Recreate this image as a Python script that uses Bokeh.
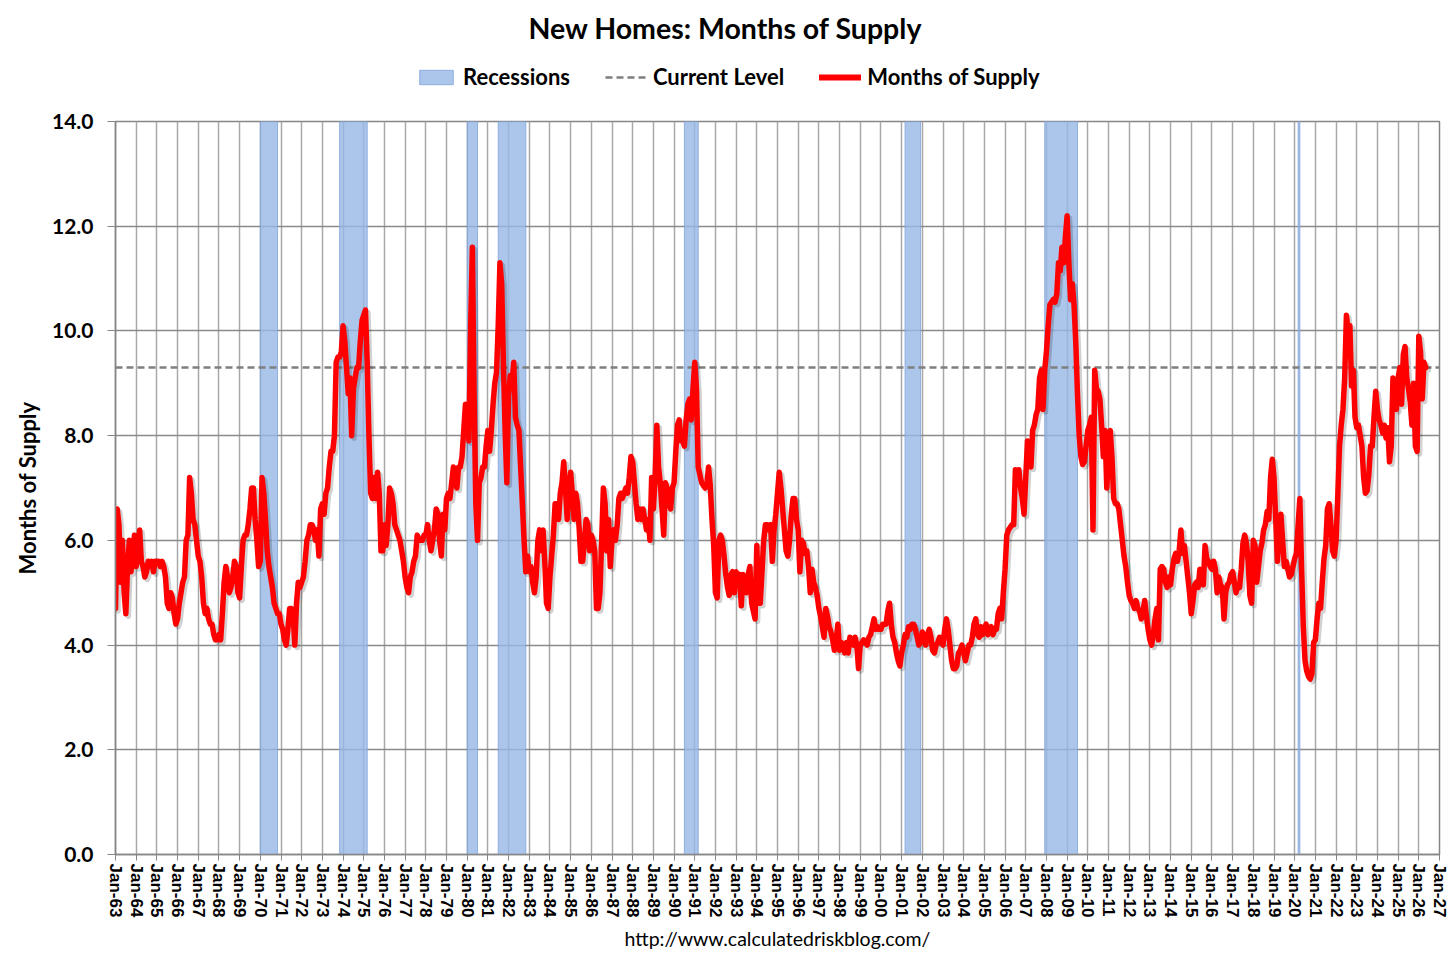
import numpy as np
from bokeh.plotting import figure
from bokeh.layouts import column
from bokeh.models import (FixedTicker, Legend, LegendItem, Title, Label, Range1d,
                          NumeralTickFormatter)
from bokeh.embed import file_html
from bokeh.resources import INLINE

# ---------------- data ----------------
start_year = 1963
end_year = 2027

supply_1963_1972 = [
    4.7, 6.6, 6.3, 5.2, 6.0, 5.0, 4.6, 5.5, 6.0, 5.4, 5.7, 6.1,
    5.5, 5.8, 6.2, 5.6, 5.5, 5.3, 5.4, 5.6, 5.5, 5.6, 5.4, 5.6,
    5.6, 5.6, 5.5, 5.6, 5.5, 5.3, 4.8, 4.7, 5.0, 4.9, 4.6, 4.4,
    4.5, 4.8, 5.0, 5.2, 5.3, 6.0, 6.1, 7.2, 6.9, 6.4, 6.3, 6.0,
    5.7, 5.6, 5.3, 4.8, 4.6, 4.7, 4.5, 4.4, 4.4, 4.2, 4.1, 4.1,
    4.2, 4.1, 4.6, 5.2, 5.5, 5.3, 5.0, 5.1, 5.3, 5.6, 5.5, 5.0,
    4.9, 5.5, 6.0, 6.1, 6.1, 6.3, 6.6, 7.0, 7.0, 6.4, 6.0, 5.5,
    5.6, 7.2, 6.9, 6.4, 5.8, 5.5, 5.3, 5.1, 4.8, 4.7, 4.6, 4.6,
    4.4, 4.3, 4.1, 4.0, 4.3, 4.7, 4.7, 4.6, 4.0, 4.8, 5.2, 5.1,
    5.2, 5.3, 5.6, 6.0, 6.1, 6.3, 6.3, 6.2, 6.0, 6.2, 5.7, 6.6,
]
supply_1973_1982 = [
    6.7, 6.5, 6.9, 7.0, 7.4, 7.7, 7.7, 8.0, 9.4, 9.5, 9.5, 9.6,
    10.1, 9.8, 9.3, 8.8, 9.1, 8.0, 8.9, 9.1, 9.3, 9.3, 9.8, 10.2,
    10.3, 10.4, 9.4, 8.0, 6.9, 6.8, 7.2, 6.8, 7.3, 6.9, 5.8, 5.8,
    6.3, 5.9, 6.3, 7.0, 6.9, 6.7, 6.3, 6.2, 6.1, 6.0, 5.8, 5.6,
    5.3, 5.1, 5.0, 5.3, 5.4, 5.6, 5.7, 6.1, 6.0, 6.0, 6.0, 6.1,
    6.1, 6.3, 6.0, 5.8, 6.0, 6.2, 6.6, 6.5, 6.0, 5.7, 6.5, 6.2,
    6.8, 6.9, 6.8, 7.1, 7.4, 7.2, 7.0, 7.4, 7.4, 7.6, 8.1, 8.6,
    8.5, 7.9, 10.1, 11.6, 8.8, 6.7, 6.0, 7.1, 7.2, 7.4, 7.4, 7.8,
    8.1, 7.7, 8.1, 8.6, 9.0, 9.2, 10.1, 11.3, 10.9, 9.4, 8.1, 7.1,
    8.75, 9.15, 9.0, 9.4, 8.35, 8.2, 8.1, 7.4, 6.7, 6.0, 5.4, 5.7,
]
supply_1983_1992 = [
    5.4, 5.5, 5.2, 5.0, 5.3, 6.0, 6.2, 5.8, 6.2, 5.6, 4.8, 4.7,
    5.3, 5.7, 6.1, 6.7, 6.7, 6.4, 6.9, 7.1, 7.5, 7.0, 6.4, 7.0,
    7.3, 6.9, 6.4, 6.9, 6.7, 6.2, 5.6, 5.6, 6.0, 6.4, 6.3, 5.8,
    6.1, 6.0, 5.8, 4.7, 4.7, 5.0, 6.0, 7.0, 6.7, 5.8, 6.4, 5.5,
    6.0, 6.2, 6.0, 6.3, 6.8, 6.9, 6.8, 6.9, 7.0, 6.9, 7.2, 7.6,
    7.5, 7.1, 6.7, 6.4, 6.6, 6.4, 6.6, 6.4, 6.2, 6.4, 6.0, 7.2,
    6.6, 7.2, 8.2, 7.4, 7.1, 6.6, 6.1, 7.1, 7.0, 6.7, 6.6, 7.0,
    7.1, 7.7, 8.2, 8.3, 7.9, 7.9, 7.8, 8.3, 8.6, 8.7, 8.3, 8.9,
    9.4, 8.9, 7.4, 7.25, 7.1, 7.05, 7.0, 7.05, 7.4, 7.05, 6.4, 5.9,
    5.0, 4.9, 6.0, 6.1, 6.0, 5.7, 5.35, 5.1, 4.95, 5.35, 5.4, 5.0,
]
supply_1993_2002 = [
    5.4, 5.15, 5.35, 4.75, 5.35, 5.1, 5.0, 5.35, 5.5, 4.8, 4.65, 4.5,
    5.9, 4.8, 4.8, 5.4, 6.0, 6.3, 6.3, 6.2, 6.3, 5.6, 6.2, 6.5,
    6.9, 7.3, 7.0, 6.6, 6.2, 5.8, 5.7, 6.0, 6.5, 6.8, 6.8, 6.4,
    6.2, 5.4, 6.0, 5.95, 5.75, 5.8, 5.5, 5.0, 5.45, 5.2, 5.1, 4.95,
    4.7, 4.55, 4.35, 4.15, 4.7, 4.55, 4.35, 4.25, 4.1, 3.9, 4.05, 4.4,
    3.9, 4.05, 4.0, 3.85, 4.05, 3.85, 4.15, 4.05, 4.0, 4.15, 4.0, 3.55,
    4.0, 4.05, 4.1, 4.05, 4.0, 4.15, 4.2, 4.35, 4.5, 4.3, 4.35, 4.3,
    4.3, 4.4, 4.4, 4.4, 4.65, 4.8, 4.4, 4.15, 4.05, 3.85, 3.7, 3.6,
    3.85, 4.0, 4.2, 4.15, 4.35, 4.3, 4.4, 4.4, 4.3, 4.15, 4.0, 4.05,
    4.25, 4.15, 4.0, 4.2, 4.3, 4.15, 3.9, 3.85, 4.0, 4.05, 4.15, 4.05,
]
supply_2003_2012 = [
    4.0, 4.3, 4.5, 4.3, 4.0, 3.7, 3.55, 3.55, 3.6, 3.85, 3.9, 4.0,
    3.85, 3.7, 3.85, 4.0, 4.0, 4.15, 4.4, 4.5, 4.2, 4.15, 4.35, 4.2,
    4.3, 4.4, 4.2, 4.3, 4.35, 4.2, 4.3, 4.3, 4.6, 4.7, 4.5, 5.0,
    5.45, 6.1, 6.2, 6.25, 6.3, 6.3, 7.35, 7.2, 7.35, 7.0, 6.8, 6.5,
    7.2, 7.9, 7.85, 7.4, 8.1, 8.2, 8.4, 8.5, 9.1, 9.25, 8.5, 9.25,
    9.6, 10.1, 10.5, 10.55, 10.6, 10.55, 10.7, 11.3, 11.15, 11.6, 11.3, 11.8,
    12.2, 11.3, 10.6, 10.9, 10.5, 9.8, 8.8, 8.0, 7.6, 7.45, 7.5, 7.8,
    8.1, 8.2, 8.35, 6.2, 9.25, 8.9, 8.85, 8.7, 8.2, 7.6, 8.1, 7.0,
    7.6, 8.1, 7.6, 6.8, 6.7, 6.7, 6.6, 6.3, 6.0, 5.7, 5.5, 5.2,
    4.95, 4.85, 4.8, 4.7, 4.85, 4.7, 4.65, 4.5, 4.65, 4.85, 4.55, 4.3,
]
supply_2013_2026 = [
    4.1, 4.0, 4.2, 4.5, 4.7, 4.1, 5.45, 5.5, 5.45, 5.2, 5.1, 5.3,
    5.15, 5.45, 5.65, 5.75, 5.6, 5.8, 6.2, 5.75, 5.9, 5.6, 5.3, 5.0,
    4.6, 4.85, 5.15, 5.2, 5.1, 5.45, 5.35, 5.15, 5.9, 5.65, 5.6, 5.5,
    5.45, 5.6, 5.45, 5.0, 5.3, 5.15, 5.1, 4.5, 5.0, 5.15, 5.2, 5.35,
    5.4, 5.2, 5.0, 5.15, 5.1, 5.45, 5.95, 6.1, 5.95, 5.6, 4.95, 4.8,
    6.0, 5.9, 5.2, 5.5, 5.8, 5.95, 6.2, 6.3, 6.55, 6.4, 7.2, 7.55,
    7.2, 6.4, 5.6, 6.2, 6.5, 6.0, 5.5, 5.6, 5.45, 5.3, 5.35, 5.5,
    5.65, 5.75, 6.3, 6.8, 5.45, 4.35, 3.7, 3.5, 3.4, 3.35, 3.45, 4.05,
    4.1, 4.5, 4.8, 4.7, 5.2, 5.65, 5.9, 6.6, 6.7, 6.3, 5.8, 5.7,
    6.0, 6.85, 7.8, 8.2, 8.5, 9.1, 10.3, 10.0, 10.1, 8.95, 9.25, 8.35,
    8.15, 8.2, 8.0, 7.8, 7.2, 6.9, 6.95, 7.25, 7.8, 7.8, 8.35, 8.85,
    8.5, 8.3, 8.2, 8.05, 8.2, 7.95, 8.15, 7.5, 7.8, 9.1, 9.0, 8.5,
    9.1, 9.3, 8.6, 9.55, 9.7, 9.1, 8.9, 8.65, 8.2, 9.0, 7.8, 7.7,
    9.9, 9.6, 8.7, 9.4, 9.3,
]

current_level = 9.3

recession_start = ["1970-01", "1973-11", "1980-01", "1981-07",
                   "1990-07", "2001-03", "2007-12", "2020-03"]
recession_end = ["1970-11", "1975-03", "1980-07", "1982-11",
                 "1991-03", "2001-12", "2009-07", "2020-04"]

tick_years = list(range(start_year, end_year + 1))
tick_labels = {y: "Jan-%02d" % (y % 100) for y in tick_years}
y_ticks = [0, 2, 4, 6, 8, 10, 12, 14]

title_text = "New Homes: Months of Supply"
legend_labels = ["Recessions", "Current Level", "Months of Supply"]
y_label = "Months of Supply"
source_text = "http://www.calculatedriskblog.com/"

# ---------------- derived ----------------
months_of_supply = (supply_1963_1972 + supply_1973_1982 + supply_1983_1992 +
                    supply_1993_2002 + supply_2003_2012 + supply_2013_2026)
x_dates = start_year + np.arange(len(months_of_supply)) / 12.0


def to_year(s):
    y, m = s.split("-")
    return int(y) + (int(m) - 1) / 12.0


rec_left = [to_year(s) for s in recession_start]
rec_right = [to_year(s) for s in recession_end]

# ---------------- styles ----------------
FONT = "Lato"
REC_STYLE = dict(fill_color="#97b8e6", fill_alpha=0.8,
                 line_color="#7fa3d9", line_alpha=0.8, line_width=1)
CUR_STYLE = dict(line_color="#7f7f7f", line_width=2.5, line_dash="7 4")
MAIN_STYLE = dict(line_color="#ff0000", line_width=5.5,
                  line_join="round", line_cap="round")

W = 1448
HDR_H = 109
BL, BR, BT, BB = 115, 9, 12, 106
MAIN_H = BT + 733 + BB

# ---------------- header (title + legend) ----------------
# In a column the header's frame is aligned with the chart frame (left = BL)
hdr = figure(width=W, height=HDR_H, output_backend="svg", toolbar_location=None,
             title=None, x_axis_type=None, y_axis_type=None,
             x_range=Range1d(0, 1), y_range=Range1d(0, 1),
             min_border_left=0, min_border_right=0,
             min_border_top=0, min_border_bottom=0)
hdr.outline_line_color = None
hdr.background_fill_color = "white"
hdr.border_fill_color = "white"
hdr.xgrid.visible = False
hdr.ygrid.visible = False

# legend-only swatch renderers (a single NaN point: nothing drawn in the frame)
nan = [float("nan")]
sw_rec = hdr.quad(left=nan, right=nan, bottom=nan, top=nan, **REC_STYLE)
sw_cur = hdr.line(x=nan, y=nan, **CUR_STYLE)
sw_main = hdr.line(x=nan, y=nan, line_color="#ff0000", line_width=6,
                   line_cap="round")

hdr.add_layout(Label(x=610, y=HDR_H - 27, x_units="screen", y_units="screen",
                     text=title_text, text_align="center",
                     text_baseline="middle", text_font=FONT,
                     text_font_style="bold", text_font_size="28.5px",
                     text_color="black"))

legend = Legend(items=[LegendItem(label=legend_labels[0], renderers=[sw_rec]),
                       LegendItem(label=legend_labels[1], renderers=[sw_cur]),
                       LegendItem(label=legend_labels[2], renderers=[sw_main])],
                orientation="horizontal", location=(300, HDR_H - 90),
                border_line_color=None, background_fill_alpha=0,
                label_text_font=FONT, label_text_font_style="bold",
                label_text_font_size="22px", label_text_color="black",
                glyph_width=42, glyph_height=18,
                label_standoff=6, spacing=35, padding=0, margin=0)
hdr.add_layout(legend, "center")

# ---------------- main chart ----------------
p = figure(width=W, height=MAIN_H, output_backend="svg", toolbar_location=None,
           title=None,
           x_range=Range1d(start_year, end_year), y_range=Range1d(0, 14),
           min_border_left=BL, min_border_right=BR,
           min_border_top=BT, min_border_bottom=BB)
p.background_fill_color = "white"
p.border_fill_color = "white"
p.outline_line_color = "#868686"
p.outline_line_width = 1.5

# pixel -> data conversion for the drop shadow offset (style only)
px_x = (end_year - start_year) / (W - BL - BR)
px_y = 14.0 / (MAIN_H - BT - BB)

p.quad(left=rec_left, right=rec_right, bottom=0, top=14, **REC_STYLE)
p.line(x=[start_year, end_year], y=[current_level, current_level], **CUR_STYLE)
p.line(x=x_dates + 2.5 * px_x, y=np.array(months_of_supply) - 2.5 * px_y,
       line_color="#000000", line_alpha=0.18, line_width=5.5,
       line_join="round", line_cap="round")
p.line(x=x_dates, y=months_of_supply, **MAIN_STYLE)

# grids
p.xgrid.ticker = FixedTicker(ticks=tick_years)
p.xgrid.grid_line_color = "#a8a8a8"
p.xgrid.grid_line_width = 1.5
p.ygrid.ticker = FixedTicker(ticks=y_ticks)
p.ygrid.grid_line_color = "#8a8a8a"
p.ygrid.grid_line_width = 1.5

# x axis
xa = p.xaxis[0]
xa.ticker = FixedTicker(ticks=tick_years)
xa.major_label_overrides = tick_labels
xa.major_label_orientation = "vertical"
xa.major_label_text_font = "Liberation Sans"
xa.major_label_text_font_style = "bold"
xa.major_label_text_font_size = "17px"
xa.major_label_text_color = "black"
xa.major_label_standoff = 3
xa.major_tick_out = 6
xa.major_tick_in = 0
xa.minor_tick_line_color = None
xa.axis_line_color = "#868686"
xa.axis_line_width = 1.5
xa.major_tick_line_color = "#868686"

# y axis
ya = p.yaxis[0]
ya.ticker = FixedTicker(ticks=y_ticks)
ya.formatter = NumeralTickFormatter(format="0.0")
ya.major_label_text_font = FONT
ya.major_label_text_font_style = "bold"
ya.major_label_text_font_size = "21px"
ya.major_label_text_color = "black"
ya.major_label_standoff = 14
ya.major_tick_out = 8
ya.major_tick_in = 0
ya.minor_tick_line_color = None
ya.axis_line_color = "#868686"
ya.axis_line_width = 1.5
ya.major_tick_line_color = "#868686"
ya.axis_label = y_label
ya.axis_label_text_font = FONT
ya.axis_label_text_font_style = "bold"
ya.axis_label_text_font_size = "22px"
ya.axis_label_text_color = "black"
ya.axis_label_standoff = 8

# footer
p.add_layout(Title(text=source_text, align="center",
                   text_font=FONT, text_font_style="normal",
                   text_font_size="19.5px", text_color="black", standoff=9),
             "below")

layout = column(hdr, p, spacing=0)
open("out.html", "w").write(file_html(layout, INLINE))
